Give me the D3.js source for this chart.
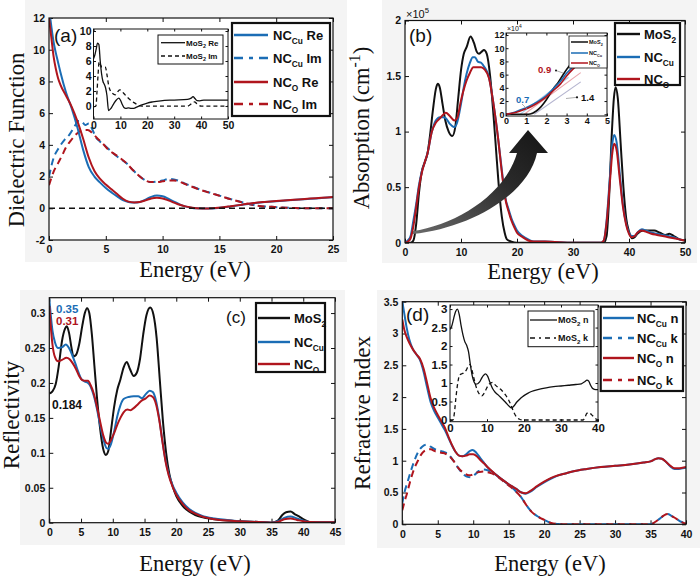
<!DOCTYPE html>
<html><head><meta charset="utf-8">
<script src="https://cdn.jsdelivr.net/npm/d3@7"></script>
<style>body{margin:0;background:#fff}svg{display:block}</style>
</head><body>
<svg id="fig" width="700" height="577"></svg>
<script>
// ---------------- DATA ----------------
// (a) Dielectric function
const aXTicks=[0,5,10,15,20,25], aYTicks=[-2,0,2,4,6,8,10,12];
const aNCCuRe=[[0,12.6],[0.2,11.5],[0.4,10.5],[0.6,9.8],[0.8,9.2],[1,8.6],[1.5,7.3],[2,6.3],[2.5,5.1],[3,3.7],[3.5,2.6],[4,2.0],[4.5,1.62],[5,1.28],[5.5,1.0],[6,0.75],[6.5,0.52],[7,0.4],[7.5,0.36],[8,0.4],[8.5,0.55],[9,0.72],[9.5,0.8],[10,0.76],[10.5,0.6],[11,0.42],[11.5,0.25],[12,0.12],[12.5,0.04],[13,0.0],[14,-0.02],[15,0.03],[16,0.12],[17,0.22],[18,0.32],[19,0.39],[20,0.45],[21,0.5],[22,0.55],[23,0.6],[24,0.65],[25,0.7]];
const aNCORe=[[0,12.0],[0.2,10.8],[0.4,9.6],[0.6,8.8],[0.8,8.2],[1,7.8],[1.5,7.1],[2,6.4],[2.5,5.5],[3,4.4],[3.5,3.2],[4,2.35],[4.5,1.85],[5,1.5],[5.5,1.2],[6,0.9],[6.5,0.6],[7,0.42],[7.5,0.37],[8,0.4],[8.5,0.5],[9,0.62],[9.5,0.66],[10,0.62],[10.5,0.5],[11,0.36],[11.5,0.22],[12,0.12],[12.5,0.05],[13,0.01],[14,-0.01],[15,0.04],[16,0.13],[17,0.23],[18,0.33],[19,0.4],[20,0.46],[21,0.51],[22,0.56],[23,0.61],[24,0.66],[25,0.71]];
const aNCCuIm=[[0,2.0],[0.35,3.05],[0.9,3.85],[1.4,4.35],[1.8,4.65],[2.2,5.1],[2.6,5.5],[2.9,5.45],[3.2,5.25],[3.5,5.35],[3.8,5.0],[4.1,4.5],[4.5,4.2],[5,3.9],[5.6,3.5],[6.2,3.15],[6.8,2.85],[7.4,2.4],[8,2.0],[8.5,1.75],[9,1.65],[9.5,1.68],[10,1.75],[10.5,1.85],[11,1.82],[11.5,1.72],[12,1.55],[12.7,1.35],[13.3,1.18],[14,1.02],[15,0.8],[16,0.58],[17,0.38],[18,0.21],[19,0.11],[19.6,0.1],[20,0.07],[21,0.03],[22,0.01],[23,0],[25,0]];
const aNCOIm=[[0,1.45],[0.4,2.3],[0.8,2.85],[1.2,3.4],[1.5,3.85],[1.9,4.25],[2.3,4.6],[2.7,4.85],[3.0,4.93],[3.4,4.93],[3.8,4.75],[4.2,4.45],[4.7,4.1],[5.3,3.65],[5.7,3.45],[6.2,3.2],[6.8,2.85],[7.4,2.4],[8,2.0],[8.5,1.75],[9,1.65],[9.5,1.65],[10,1.7],[10.5,1.75],[11,1.75],[11.5,1.68],[12,1.52],[12.7,1.33],[13.3,1.17],[14,1.01],[15,0.79],[16,0.57],[17,0.37],[18,0.21],[19,0.11],[19.6,0.1],[20,0.07],[21,0.03],[22,0.01],[23,0],[25,0]];
const aZeroLine=[[0,0],[25,0]];
// (a) inset: MoS2
const aiXTicks=[0,10,20,30,40,50], aiYTicks=[0,2,4,6,8,10];
const aiMoS2Re=[[0,6.3],[0.5,6.8],[1,7.6],[1.5,8.4],[2,8.2],[2.5,6.0],[3,4.3],[3.5,3.3],[4,2.9],[4.5,2.4],[5,1.4],[5.6,-0.6],[6.5,-0.3],[7.5,0.3],[8.5,0.8],[9.4,1.05],[10,0.8],[10.7,0.2],[11.3,-0.2],[12,-0.3],[13,-0.25],[14,-0.3],[15,-0.3],[16,-0.15],[18,0.15],[20,0.4],[22,0.55],[25,0.7],[30,0.8],[35,0.9],[36.3,1.05],[37,1.25],[37.7,1.0],[38.5,0.72],[39.5,0.7],[41,0.78],[43,0.8],[50,0.8]];
const aiMoS2Im=[[0,-0.1],[0.9,0.0],[1.3,1.9],[1.7,4.2],[2.1,5.9],[2.6,5.5],[3.1,5.2],[3.8,5.2],[4.4,5.2],[5,4.2],[5.6,2.8],[6.3,2.0],[7,1.7],[8.1,1.5],[9,1.9],[9.8,2.15],[10.5,2.0],[11.2,1.7],[12.5,1.2],[14.4,0.6],[15.5,0.35],[16.9,0.05],[18,0],[35,0],[36,0.2],[37,0.5],[37.6,0.55],[38.3,0.35],[39.2,0.1],[40,0],[50,0]];

// (b) Absorption (x1e5)
const bXTicks=[0,10,20,30,40,50], bYTicks=[0,0.5,1,1.5,2];
const bMoS2=[[0,0],[1,0],[1.5,0.02],[2,0.17],[2.5,0.45],[3,0.64],[3.5,0.72],[4,0.8],[4.5,0.98],[5,1.2],[5.5,1.38],[5.85,1.43],[6.2,1.4],[6.7,1.25],[7.2,1.1],[7.8,1.0],[8.45,0.96],[9,1.05],[9.5,1.3],[10,1.55],[10.5,1.7],[11,1.76],[11.7,1.855],[12.3,1.8],[12.8,1.72],[13.2,1.7],[13.7,1.72],[14.1,1.735],[14.6,1.7],[15.2,1.5],[15.8,1.15],[16.4,0.74],[16.9,0.42],[17.3,0.23],[17.8,0.09],[18.2,0.03],[19,0.01],[20,0],[35.5,0],[36,0.06],[36.4,0.35],[36.9,0.95],[37.3,1.3],[37.6,1.4],[38,1.3],[38.5,0.9],[39,0.5],[39.5,0.22],[40,0.1],[40.5,0.04],[41,0.05],[41.5,0.08],[42.5,0.11],[43.5,0.11],[44.5,0.11],[45.5,0.09],[46.5,0.07],[47.2,0.08],[48,0.06],[49,0.03],[50,0.02]];
const bNCCu=[[0,0],[0.5,0.02],[1,0.06],[1.5,0.2],[2,0.35],[2.5,0.52],[3,0.64],[3.5,0.72],[4,0.8],[4.8,1.0],[5.5,1.1],[6.25,1.13],[6.8,1.13],[7.3,1.12],[8,1.07],[8.8,1.04],[9.3,1.08],[10,1.25],[10.5,1.4],[11,1.52],[11.6,1.62],[12.1,1.67],[12.5,1.67],[13,1.63],[13.6,1.62],[14.2,1.58],[15,1.49],[15.8,1.25],[16.6,0.95],[17.3,0.65],[17.9,0.41],[18.5,0.3],[19,0.22],[19.5,0.16],[20,0.11],[21,0.06],[22,0.03],[23,0.01],[25,0.01],[30,0],[35,0],[35.5,0.02],[36,0.2],[36.6,0.6],[37,0.88],[37.35,0.97],[37.8,0.9],[38.3,0.65],[38.9,0.35],[39.5,0.17],[40,0.09],[40.5,0.06],[41,0.06],[41.5,0.09],[42.3,0.12],[43,0.11],[44,0.09],[45,0.08],[46,0.07],[47,0.06],[48,0.05],[49,0.03],[50,0.02]];
const bNCO=[[0,0],[0.5,0.01],[1,0.04],[1.5,0.15],[2,0.32],[2.5,0.5],[3,0.63],[3.5,0.72],[4,0.8],[4.8,1.0],[5.5,1.08],[6.25,1.12],[7.3,1.17],[8,1.14],[8.8,1.1],[9.3,1.12],[10,1.28],[10.5,1.38],[11,1.46],[11.6,1.53],[12.2,1.58],[12.8,1.58],[13.6,1.58],[14.2,1.56],[15,1.48],[15.8,1.25],[16.6,0.95],[17.3,0.63],[17.9,0.4],[18.5,0.28],[19,0.2],[19.5,0.14],[20,0.09],[21,0.05],[22,0.02],[23,0.01],[25,0.01],[30,0],[35,0],[35.5,0.02],[36,0.18],[36.6,0.55],[37,0.8],[37.35,0.89],[37.8,0.83],[38.3,0.6],[38.9,0.33],[39.5,0.16],[40,0.08],[40.5,0.05],[41,0.06],[41.5,0.09],[42.3,0.11],[43,0.1],[44,0.08],[45,0.07],[46,0.06],[47,0.05],[48,0.04],[49,0.03],[50,0.02]];
// (b) inset (x1e4)
const biXTicks=[0,1,2,3,4,5], biYTicks=[0,2,4,6,8,10,12];
const biMoS2=[[0,0],[1,0],[1.2,0.05],[1.5,0.5],[1.75,1.2],[2,2.2],[2.35,3.9],[2.6,4.9],[2.85,6.1],[3.1,7.2],[3.35,8.0],[3.6,9.0]];
const biNCCu=[[0,0],[0.3,0.2],[0.7,0.65],[1.1,1.15],[1.5,1.8],[1.9,2.6],[2.35,3.9],[2.7,5.0],[3.0,6.2],[3.35,7.3],[3.6,8.2]];
const biNCO=[[0,0],[0.3,0.15],[0.7,0.5],[1.1,0.95],[1.5,1.6],[1.9,2.4],[2.35,3.6],[2.7,4.6],[3.0,5.8],[3.3,6.8],[3.6,7.6]];
const biFitMoS2=[[1.4,0],[3.7,4.9]], biFitNCCu=[[0.7,0],[3.1,5.6]], biFitNCO=[[0.9,0],[3.7,6.3]];
const bGapLabels=["0.7","0.9","1.4"];

// (c) Reflectivity
const cXTicks=[0,5,10,15,20,25,30,35,40,45], cYTicks=[0,0.05,0.1,0.15,0.2,0.25,0.3];
const cMoS2=[[0,0.185],[0.5,0.188],[1,0.198],[1.5,0.225],[2,0.26],[2.5,0.278],[2.75,0.281],[3.1,0.272],[3.5,0.25],[3.8,0.238],[4.2,0.24],[4.7,0.255],[5.2,0.282],[5.6,0.3],[5.95,0.307],[6.3,0.3],[6.7,0.27],[7.1,0.225],[7.5,0.18],[8,0.135],[8.5,0.105],[8.9,0.097],[9.3,0.103],[9.7,0.13],[10.2,0.165],[10.7,0.19],[11.2,0.205],[11.7,0.222],[12.2,0.23],[12.7,0.22],[13.3,0.21],[13.8,0.215],[14.3,0.235],[14.8,0.27],[15.3,0.297],[15.9,0.308],[16.4,0.298],[16.9,0.265],[17.4,0.205],[17.9,0.145],[18.4,0.1],[18.9,0.07],[19.5,0.05],[20,0.038],[21,0.024],[22,0.016],[23,0.011],[24,0.008],[26,0.005],[28,0.003],[30,0.002],[33,0.001],[35,0],[36,0.003],[36.7,0.011],[37.3,0.015],[38,0.016],[38.7,0.012],[39.5,0.008],[40.2,0.004],[41,0.001],[42,0.0005],[45,0.0005]];
const cNCCu=[[0,0.32],[0.2,0.3],[0.5,0.275],[0.9,0.258],[1.4,0.25],[2,0.251],[2.6,0.255],[3.1,0.25],[3.6,0.24],[4.1,0.228],[4.6,0.215],[5.1,0.205],[5.6,0.202],[6.1,0.2],[6.5,0.195],[7,0.182],[7.5,0.163],[8,0.14],[8.5,0.12],[9,0.107],[9.3,0.106],[9.7,0.112],[10.2,0.13],[10.7,0.152],[11.2,0.168],[11.7,0.177],[12.5,0.18],[13.3,0.181],[14,0.181],[14.6,0.178],[15.2,0.184],[15.8,0.189],[16.3,0.187],[16.8,0.175],[17.3,0.15],[17.8,0.118],[18.3,0.09],[18.8,0.07],[19.5,0.052],[20,0.043],[21,0.029],[22,0.02],[23,0.014],[24,0.01],[26,0.006],[28,0.004],[30,0.002],[33,0.001],[35,0],[36,0.002],[37,0.007],[38,0.009],[39,0.006],[40,0.003],[41,0.001],[45,0.0005]];
const cNCO=[[0,0.31],[0.2,0.285],[0.5,0.255],[0.9,0.237],[1.4,0.231],[2,0.233],[2.7,0.236],[3.2,0.234],[3.7,0.228],[4.2,0.22],[4.7,0.21],[5.2,0.204],[5.7,0.203],[6.1,0.203],[6.5,0.197],[7,0.185],[7.5,0.166],[8,0.145],[8.5,0.125],[9,0.114],[9.3,0.113],[9.7,0.118],[10.2,0.128],[10.7,0.14],[11.2,0.15],[11.7,0.158],[12.3,0.162],[12.8,0.161],[13.3,0.164],[14,0.17],[14.6,0.175],[15.2,0.178],[15.8,0.182],[16.3,0.18],[16.8,0.17],[17.3,0.148],[17.8,0.117],[18.3,0.088],[18.8,0.068],[19.5,0.05],[20,0.04],[21,0.027],[22,0.018],[23,0.013],[24,0.009],[26,0.005],[28,0.003],[30,0.002],[33,0.001],[35,0],[36,0.001],[37,0.005],[38,0.006],[39,0.004],[40,0.002],[41,0.001],[45,0.0005]];
const cValueLabels=["0.35","0.31","0.184"];

// (d) Refractive index
const dXTicks=[0,5,10,15,20,25,30,35,40], dYTicks=[0,0.5,1,1.5,2,2.5,3,3.5];
const dNCCuN=[[0,3.5],[0.3,3.3],[0.6,3.1],[1,2.9],[1.5,2.75],[2,2.67],[2.5,2.58],[3,2.4],[3.5,2.15],[4,1.92],[4.5,1.78],[5,1.68],[5.5,1.58],[6,1.48],[6.5,1.36],[7,1.24],[7.5,1.14],[8,1.08],[8.5,1.07],[9,1.1],[9.5,1.15],[9.9,1.17],[10.4,1.13],[11,1.04],[11.5,0.97],[12,0.9],[13,0.8],[14,0.71],[15,0.63],[16,0.56],[16.8,0.5],[17.4,0.48],[18,0.51],[19,0.59],[20,0.66],[21,0.72],[22,0.77],[23,0.8],[24,0.83],[26,0.87],[28,0.9],[30,0.92],[32,0.94],[34,0.97],[35,0.99],[35.6,1.02],[36.1,1.04],[36.6,1.03],[37.2,0.98],[37.8,0.91],[38.4,0.87],[39,0.87],[39.5,0.88],[40,0.89]];
const dNCON=[[0,3.22],[0.3,3.05],[0.6,2.95],[1,2.85],[1.5,2.75],[2,2.67],[2.5,2.6],[3,2.45],[3.5,2.22],[4,1.98],[4.5,1.83],[5,1.72],[5.5,1.62],[6,1.52],[6.5,1.38],[7,1.25],[7.5,1.14],[8,1.08],[8.5,1.07],[9,1.08],[9.5,1.1],[10,1.1],[10.5,1.07],[11,1.01],[11.5,0.96],[12,0.9],[13,0.8],[14,0.71],[15,0.63],[16,0.56],[16.8,0.5],[17.4,0.49],[18,0.52],[19,0.6],[20,0.67],[21,0.73],[22,0.77],[23,0.8],[24,0.83],[26,0.87],[28,0.9],[30,0.92],[32,0.94],[34,0.97],[35,0.99],[35.6,1.02],[36.1,1.04],[36.6,1.03],[37.2,0.98],[37.8,0.92],[38.4,0.88],[39,0.88],[39.5,0.89],[40,0.9]];
const dNCCuK=[[0,0.33],[0.3,0.5],[0.7,0.65],[1.1,0.8],[1.6,0.97],[2.2,1.13],[2.8,1.22],[3.4,1.25],[4,1.22],[4.6,1.18],[5.2,1.16],[5.8,1.14],[6.5,1.1],[7.2,1.0],[7.8,0.9],[8.5,0.8],[9.1,0.75],[9.6,0.74],[10.2,0.78],[10.8,0.84],[11.4,0.86],[12,0.85],[12.6,0.82],[13.3,0.77],[14,0.71],[15,0.62],[16,0.52],[16.8,0.42],[17.5,0.3],[18.2,0.2],[19,0.13],[20,0.07],[21,0.02],[22,0.005],[23,0],[35,0],[35.7,0.04],[36.3,0.09],[36.9,0.14],[37.4,0.16],[38,0.13],[38.6,0.09],[39.3,0.04],[40,0.01]];
const dNCOK=[[0,0.22],[0.3,0.35],[0.7,0.5],[1.1,0.67],[1.6,0.85],[2.2,1.0],[2.8,1.12],[3.4,1.17],[4,1.18],[4.6,1.15],[5.2,1.13],[5.8,1.12],[6.5,1.08],[7.2,1.0],[7.8,0.9],[8.5,0.82],[9.1,0.78],[9.6,0.77],[10.2,0.8],[10.8,0.82],[11.4,0.83],[12,0.82],[12.6,0.8],[13.3,0.76],[14,0.7],[15,0.61],[16,0.52],[16.8,0.42],[17.5,0.3],[18.2,0.2],[19,0.13],[20,0.07],[21,0.02],[22,0.005],[23,0],[35,0],[35.7,0.04],[36.3,0.09],[36.9,0.14],[37.4,0.16],[38,0.13],[38.6,0.09],[39.3,0.04],[40,0.01]];
// (d) inset: MoS2
const diXTicks=[0,10,20,30,40], diYTicks=[0,0.5,1,1.5,2,2.5,3];
const diMoS2N=[[0,2.45],[0.5,2.55],[1,2.75],[1.5,2.93],[2,3.0],[2.5,2.85],[3,2.55],[3.5,2.3],[4,2.12],[4.5,2.02],[5,1.85],[5.5,1.5],[6,1.2],[6.5,1.03],[7,0.97],[7.5,0.98],[8,1.03],[8.5,1.12],[9,1.2],[9.6,1.25],[10.2,1.18],[10.8,1.02],[11.5,0.85],[12.2,0.75],[13,0.68],[14,0.58],[15,0.48],[16,0.37],[16.6,0.33],[17.2,0.37],[18,0.48],[19,0.58],[20,0.66],[21,0.72],[22,0.77],[24,0.83],[26,0.87],[28,0.9],[30,0.92],[32,0.94],[34,0.96],[35.5,0.98],[36.5,1.04],[37,1.08],[37.5,1.05],[38,0.94],[38.5,0.86],[39,0.83],[40,0.82]];
const diMoS2K=[[0,0],[0.8,0],[1.2,0.2],[1.6,0.6],[2.1,1.0],[2.6,1.22],[3.2,1.25],[3.8,1.28],[4.4,1.35],[5.0,1.47],[5.4,1.5],[5.8,1.4],[6.3,1.2],[6.9,0.95],[7.5,0.78],[8.1,0.68],[8.6,0.65],[9.2,0.72],[9.8,0.84],[10.4,0.95],[11,1.0],[11.5,1.02],[12.2,0.95],[13,0.88],[14,0.8],[15,0.68],[15.8,0.55],[16.5,0.4],[17.2,0.22],[18,0.08],[18.8,0.02],[19.5,0],[36,0],[36.5,0.08],[37,0.18],[37.5,0.2],[38.2,0.15],[39,0.07],[39.6,0.02],[40,0]];

// ---------------- DRAWING ----------------
const svg=d3.select("#fig");
const SANS="'Liberation Sans', Arial, Helvetica, sans-serif";
const SERIF="'Liberation Serif', 'Times New Roman', serif";
const BLUE="#1b6db5", RED="#b0151d", BLACK="#111";
let clipN=0;

// light grey scan background patches
[[25,0,322,262],[382,0,315,263],[20,290,325,255],[377,290,323,258]].forEach(r=>
  svg.append("rect").attr("x",r[0]).attr("y",r[1]).attr("width",r[2]).attr("height",r[3]).attr("fill","#f4f4f4"));

function rich(t,parts,size,subRatio){
  let cur=0; const sr=subRatio||0.68;
  parts.forEach(p=>{
    let txt,off=0,fs=size;
    if(typeof p==="string"){txt=p;}
    else if(p.sub!==undefined){txt=p.sub;off=size*0.3;fs=size*sr;}
    else {txt=p.sup;off=-size*0.42;fs=size*0.7;}
    t.append("tspan").attr("dy",off-cur).attr("font-size",fs).text(txt);
    cur=off;
  });
}
function makeAxes(g,box,xDom,yDom,xt,yt,o){
  const x=d3.scaleLinear().domain(xDom).range([box.l,box.r]);
  const y=d3.scaleLinear().domain(yDom).range([box.b,box.t]);
  g.append("rect").attr("x",box.l).attr("y",box.t).attr("width",box.r-box.l).attr("height",box.b-box.t).attr("fill","#fff");
  const fmt=d=>String(d), tl=o.tl||4;
  const axs=[
    g.append("g").attr("transform",`translate(0,${box.b})`).call(d3.axisBottom(x).tickValues(xt).tickSize(-tl).tickPadding(o.xpad??6).tickFormat(fmt)),
    g.append("g").attr("transform",`translate(0,${box.t})`).call(d3.axisTop(x).tickValues(xt).tickSize(-tl).tickFormat("")),
    g.append("g").attr("transform",`translate(${box.l},0)`).call(d3.axisLeft(y).tickValues(yt).tickSize(-tl).tickPadding(o.ypad??4).tickFormat(fmt)),
    g.append("g").attr("transform",`translate(${box.r},0)`).call(d3.axisRight(y).tickValues(yt).tickSize(-tl).tickFormat(""))];
  axs.forEach(a=>{a.select(".domain").remove();
    a.selectAll("line").attr("stroke",BLACK).attr("stroke-width",o.tw||1);
    a.selectAll("text").attr("font-family",SANS).attr("font-size",o.fs||10.5).attr("font-weight",o.fw||"bold").attr("fill",BLACK);});
  const id="clip"+(clipN++);
  g.append("clipPath").attr("id",id).append("rect").attr("x",box.l).attr("y",box.t).attr("width",box.r-box.l).attr("height",box.b-box.t);
  return {x,y,clip:`url(#${id})`,box,g};
}
function frame(ax,sw){
  const b=ax.box;
  ax.g.append("rect").attr("x",b.l).attr("y",b.t).attr("width",b.r-b.l).attr("height",b.b-b.t).attr("fill","none").attr("stroke",BLACK).attr("stroke-width",sw||1.2);
}
function plot(ax,data,color,w,dash){
  ax.g.append("path").datum(data)
    .attr("d",d3.line().x(d=>ax.x(d[0])).y(d=>ax.y(d[1])).curve(d3.curveMonotoneX))
    .attr("fill","none").attr("stroke",color).attr("stroke-width",w).attr("stroke-linejoin","round")
    .attr("stroke-dasharray",dash||null).attr("clip-path",ax.clip);
}
function legend(g,box,items,o){
  g.append("rect").attr("x",box[0]).attr("y",box[1]).attr("width",box[2]-box[0]).attr("height",box[3]-box[1])
    .attr("fill","#fff").attr("stroke",BLACK).attr("stroke-width",o.sw);
  items.forEach(it=>{
    g.append("line").attr("x1",o.l1).attr("x2",o.l2).attr("y1",it.y).attr("y2",it.y).attr("stroke",it.c)
      .attr("stroke-width",o.lw).attr("stroke-dasharray",it.dash||null);
    const t=g.append("text").attr("x",o.tx).attr("y",it.y+o.fs*0.36).attr("font-family",SANS).attr("font-weight","bold").attr("font-size",o.fs).attr("fill",BLACK);
    rich(t,it.parts,o.fs,o.sr);
  });
}
function label(g,x,y,txt,o){
  const t=g.append("text").attr("x",x).attr("y",y).attr("font-family",o.ff||SANS).attr("font-size",o.fs)
    .attr("font-weight",o.fw||"normal").attr("fill",o.c||BLACK).attr("text-anchor",o.anchor||"start");
  if(o.rot) t.attr("transform",`rotate(-90,${x},${y})`);
  if(Array.isArray(txt)) rich(t,txt,o.fs); else t.text(txt);
  return t;
}
const MAIN_DASH="7,4.5", IN_DASH="4,3";
const LEG={sw:2.2,fs:13,lw:2.4,sr:0.64};

// ===== Panel (a) =====
const gA=svg.append("g");
const axA=makeAxes(gA,{l:49,r:333,t:18,b:240},[0,25],[-2,12],aXTicks,aYTicks,{});
plot(axA,aNCCuIm,BLUE,2,MAIN_DASH);
plot(axA,aNCOIm,RED,2,MAIN_DASH);
plot(axA,aNCCuRe,BLUE,2);
plot(axA,aNCORe,RED,2);
plot(axA,aZeroLine,BLACK,1.6,"6,4");
frame(axA,1.2);
label(gA,54,42,"(a)",{fs:19});
const axAi=makeAxes(gA,{l:93.5,r:228,t:29,b:119},[0,50],[-1.73,10.27],aiXTicks,aiYTicks,{tl:2.5,xpad:3,ypad:2,fs:10.5});
plot(axAi,aiMoS2Im,BLACK,1.3,IN_DASH);
plot(axAi,aiMoS2Re,BLACK,1.3);
frame(axAi,1);
legend(gA,[158,35,223,64],[
  {y:42.7,c:BLACK,parts:["MoS",{sub:"2"}," Re"]},
  {y:56,c:BLACK,dash:"4,3",parts:["MoS",{sub:"2"}," Im"]}],{sw:1,l1:161,l2:185,tx:186,fs:8,lw:1.3});
legend(gA,[232,23,330,116],[
  {y:35,c:BLUE,parts:["NC",{sub:"Cu"}," Re"]},
  {y:58,c:BLUE,dash:"9,6,4,6",parts:["NC",{sub:"Cu"}," Im"]},
  {y:82,c:RED,parts:["NC",{sub:"O"}," Re"]},
  {y:104,c:RED,dash:"9,6,4,6",parts:["NC",{sub:"O"}," Im"]}],Object.assign({l1:234,l2:268,tx:273},LEG));
label(gA,24,140,"Dielectric Function",{ff:SERIF,fs:22.5,rot:true,anchor:"middle"});
label(gA,195,277,"Energy (eV)",{ff:SERIF,fs:22.5,anchor:"middle"});

// ===== Panel (b) =====
const gB=svg.append("g");
const axB=makeAxes(gB,{l:405,r:685,t:20.5,b:242.7},[0,50],[0,2],bXTicks,bYTicks,{});
plot(axB,bMoS2,BLACK,2);
plot(axB,bNCCu,BLUE,2);
plot(axB,bNCO,RED,2);
// curved arrow
const defs=svg.append("defs");
const grad=defs.append("linearGradient").attr("id","arrowGrad").attr("x1","0").attr("y1","1").attr("x2","1").attr("y2","0");
grad.append("stop").attr("offset","0").attr("stop-color","#6a6a6a");
grad.append("stop").attr("offset","0.6").attr("stop-color","#2a2a2a");
grad.append("stop").attr("offset","1").attr("stop-color","#151515");
gB.append("path").attr("d","M413,231 C455,225 505,195 517,153 L509,153 L528,130 L548,153 L537,153 C528,195 470,228 413,234 Z")
  .attr("fill","url(#arrowGrad)");
frame(axB,1.2);
label(gB,409,42,"(b)",{fs:19});
label(gB,406,18,["×10",{sup:"5"}],{fs:11});
const axBi=makeAxes(gB,{l:506,r:607,t:33,b:116},[0,5],[-0.26,12.3],biXTicks,biYTicks,{tl:2.5,xpad:1.5,ypad:1.5,fs:9});
plot(axBi,biFitNCCu,"#a9cbea",1.1);
plot(axBi,biFitNCO,"#eaa5ab",1.1);
plot(axBi,biFitMoS2,"#b4b4cf",1.1);
plot(axBi,biMoS2,BLACK,1.6);
plot(axBi,biNCCu,BLUE,1.6);
plot(axBi,biNCO,RED,1.6);
frame(axBi,1);
label(gB,507,31,["×10",{sup:"4"}],{fs:7});
// gap labels & pointers
gB.append("line").attr("x1",522).attr("y1",104).attr("x2",527).attr("y2",109).attr("stroke","#999").attr("stroke-width",0.8);
gB.append("line").attr("x1",556).attr("y1",70.5).attr("x2",563).attr("y2",73).attr("stroke","#999").attr("stroke-width",0.8);
gB.append("circle").attr("cx",556).attr("cy",70.5).attr("r",1).attr("fill",BLACK);
gB.append("line").attr("x1",566).attr("y1",98.5).attr("x2",577).attr("y2",97.3).attr("stroke","#999").attr("stroke-width",0.8);
gB.append("circle").attr("cx",577).attr("cy",97.3).attr("r",1.1).attr("fill",BLACK);
label(gB,516,103,bGapLabels[0],{fs:9.5,fw:"bold",c:BLUE});
label(gB,538,73,bGapLabels[1],{fs:9.5,fw:"bold",c:RED});
label(gB,581,100.5,bGapLabels[2],{fs:9.5,fw:"bold",c:BLACK});
legend(gB,[569,36,607,68],[
  {y:42,c:BLACK,parts:["MoS",{sub:"2"}]},
  {y:53,c:BLUE,parts:["NC",{sub:"Cu"}]},
  {y:63,c:RED,parts:["NC",{sub:"O"}]}],{sw:0.8,l1:571,l2:588,tx:589,fs:5.5,lw:1.5});
legend(gB,[615,23,680,85],[
  {y:34,c:BLACK,parts:["MoS",{sub:"2"}]},
  {y:57,c:BLUE,parts:["NC",{sub:"Cu"}]},
  {y:79,c:RED,parts:["NC",{sub:"O"}]}],Object.assign({l1:617,l2:640,tx:644},LEG));
label(gB,369,128,["Absorption (cm",{sup:"-1"},")"],{ff:SERIF,fs:22.5,rot:true,anchor:"middle"});
label(gB,543,279,"Energy (eV)",{ff:SERIF,fs:22.5,anchor:"middle"});

// ===== Panel (c) =====
const gC=svg.append("g");
const axC=makeAxes(gC,{l:49.3,r:335,t:297.7,b:522.7},[0,45],[0,0.322],cXTicks,cYTicks,{});
plot(axC,cMoS2,BLACK,2);
plot(axC,cNCCu,BLUE,2);
plot(axC,cNCO,RED,2);
frame(axC,1.2);
label(gC,226,323,"(c)",{fs:17});
label(gC,56,313,cValueLabels[0],{fs:11.5,fw:"bold",c:BLUE});
label(gC,56,325,cValueLabels[1],{fs:11.5,fw:"bold",c:RED});
label(gC,52,409,cValueLabels[2],{fs:12,fw:"bold",c:BLACK});
legend(gC,[256,303,325,372],[
  {y:318,c:BLACK,parts:["MoS",{sub:"2"}]},
  {y:342,c:BLUE,parts:["NC",{sub:"Cu"}]},
  {y:364,c:RED,parts:["NC",{sub:"O"}]}],Object.assign({l1:258,l2:290,tx:294},LEG));
label(gC,19,415,"Reflectivity",{ff:SERIF,fs:23,rot:true,anchor:"middle"});
label(gC,195,571,"Energy (eV)",{ff:SERIF,fs:22.5,anchor:"middle"});

// ===== Panel (d) =====
const gD=svg.append("g");
const axD=makeAxes(gD,{l:402.3,r:686,t:301.7,b:524.3},[0,40],[0,3.5],dXTicks,dYTicks,{});
plot(axD,dNCCuK,BLUE,2,MAIN_DASH);
plot(axD,dNCOK,RED,2,MAIN_DASH);
plot(axD,dNCCuN,BLUE,2);
plot(axD,dNCON,RED,2);
frame(axD,1.2);
label(gD,406,321,"(d)",{fs:19});
const axDi=makeAxes(gD,{l:450,r:598,t:305,b:421.7},[0,40],[-0.046,3.11],diXTicks,diYTicks,{tl:2.5,xpad:2.5,ypad:2.5,fs:11.5});
plot(axDi,diMoS2K,BLACK,1.3,IN_DASH);
plot(axDi,diMoS2N,BLACK,1.3);
frame(axDi,1);
legend(gD,[528,311,594,346.7],[
  {y:320,c:BLACK,parts:["MoS",{sub:"2"}," n"]},
  {y:338,c:BLACK,dash:"5,4,2,4",parts:["MoS",{sub:"2"}," k"]}],{sw:1,l1:530,l2:557,tx:558,fs:9,lw:1.3});
legend(gD,[600.7,306.7,683,391],[
  {y:318,c:BLUE,parts:["NC",{sub:"Cu"}," n"]},
  {y:338,c:BLUE,dash:"9,6,4,6",parts:["NC",{sub:"Cu"}," k"]},
  {y:358,c:RED,parts:["NC",{sub:"O"}," n"]},
  {y:380,c:RED,dash:"9,6,4,6",parts:["NC",{sub:"O"}," k"]}],Object.assign({l1:603,l2:634,tx:637},LEG));
label(gD,370,413,"Refractive Index",{ff:SERIF,fs:23,rot:true,anchor:"middle"});
label(gD,550,571,"Energy (eV)",{ff:SERIF,fs:22.5,anchor:"middle"});
</script>
</body></html>
